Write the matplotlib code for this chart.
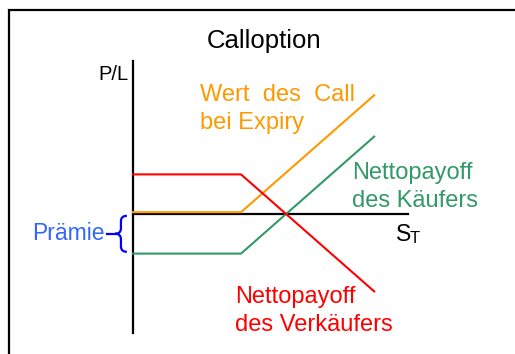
import matplotlib
matplotlib.use('Agg')
import matplotlib.pyplot as plt
from matplotlib.path import Path
from matplotlib.patches import PathPatch, Rectangle
import numpy as np

# payoff diagram, arbitrary units (strike at 3, premium 1.1)
s_t = [0, 3, 6.7]
call_value = [0, 0, 3.25]
premium = 1.1
buyer_net = [v - premium for v in call_value]
seller_net = [premium - v for v in call_value]

title = 'Calloption'
label_call = ['Wert  des  Call', 'bei Expiry']
label_buyer = ['Nettopayoff', 'des Käufers']
label_seller = ['Nettopayoff', 'des Verkäufers']
label_premium = 'Prämie'

W, H = 515, 354
UNIT = 36.0          # pixels per unit
X0, Y0 = 133, 214    # pixel position of origin

plt.rcParams['font.family'] = ['Liberation Sans', 'DejaVu Sans']

fig = plt.figure(figsize=(W / 100, H / 100), dpi=100)
ax = fig.add_axes([0, 0, 1, 1])
ax.set_xlim(-X0 / UNIT, (W - X0) / UNIT)
ax.set_ylim(-(H - Y0) / UNIT, Y0 / UNIT)
ax.axis('off')

# outer frame (left and top visible)
fig.add_artist(Rectangle((8.5 / W, -0.1), 1.2, 1 - 10 / H + 0.1,
                         transform=fig.transFigure, fill=False,
                         edgecolor='black', lw=1.6))

# axes
ax.plot([0, 0], [-3.31, 4.25], color='black', lw=1.6)
ax.plot([0, 7.64], [0, 0], color='black', lw=1.6)

orange = '#ff9900'
green = '#339966'
red = '#ff0000'
ax.plot(s_t, np.array(call_value) + 0.05, color=orange, lw=1.5)
ax.plot(s_t, buyer_net, color=green, lw=1.5)
ax.plot(s_t, seller_net, color=red, lw=1.5)


def brace(x, y_top, y_bot, w, r=0.15):
    ym = (y_top + y_bot) / 2
    xm = x - w / 2
    verts = [(x, y_top), (xm, y_top), (xm, y_top - r),
             (xm, ym + r), (xm, ym), (x - w, ym),
             (xm, ym), (xm, ym - r),
             (xm, y_bot + r), (xm, y_bot), (x, y_bot)]
    codes = [Path.MOVETO, Path.CURVE3, Path.CURVE3,
             Path.LINETO, Path.CURVE3, Path.CURVE3,
             Path.CURVE3, Path.CURVE3,
             Path.LINETO, Path.CURVE3, Path.CURVE3]
    return Path(verts, codes)


ax.add_patch(PathPatch(brace(-0.17, -0.05, -premium + 0.05, 0.33),
                       fill=False, edgecolor='#0000ff', lw=1.6))
ax.plot([-0.5, -0.72], [-premium / 2] * 2, color='#0000ff', lw=1.6)


def ftext(x, y, s, **kw):
    fig.text(x / W, 1 - y / H, s, va='baseline', **kw)


def flines(x, y, lines, step=28, **kw):
    for i, s in enumerate(lines):
        ftext(x, y + i * step, s, **kw)


ftext(264, 48, title, fontsize=18.5, ha='center')
ftext(128, 80, 'P/L', fontsize=14.5, ha='right')
flines(200, 101, label_call, fontsize=17, color=orange)
flines(352, 179, label_buyer, fontsize=17, color=green)
flines(235, 303, label_seller, fontsize=17, color=red)
ftext(105, 240, label_premium, fontsize=16.5, color='#3366ff', ha='right')
ftext(396, 241, 'S', fontsize=16.5)
ftext(410, 243, 'T', fontsize=12)

fig.savefig('out.png', dpi=100)
